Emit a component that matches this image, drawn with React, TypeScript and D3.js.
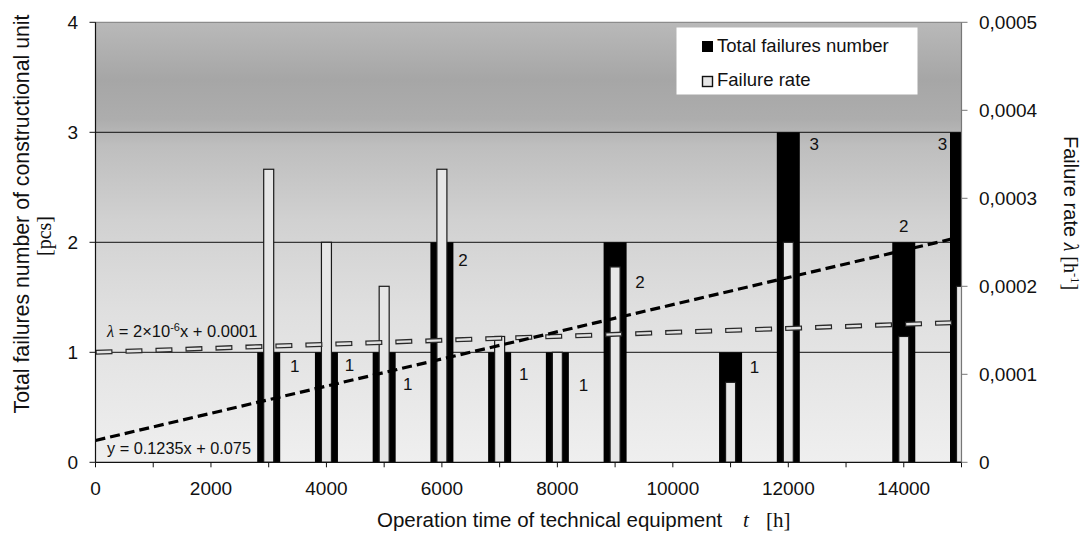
import React from "react";
import * as d3 from "d3";

const hours = [3000, 4000, 5000, 6000, 7000, 8000, 9000, 11000, 12000, 14000, 15000];
const totalFailures = [1, 1, 1, 2, 1, 1, 2, 1, 3, 2, 3];
const failureRate = [0.000333, 0.00025, 0.0002, 0.000333, 0.000143, 0.000125, 0.000222, 0.0000909, 0.00025, 0.000143, 0.0002];
const xTickValues = d3.range(0, 15001, 1000);
const xLabelValues = [0, 2000, 4000, 6000, 8000, 10000, 12000, 14000];
const leftTickValues = [0, 1, 2, 3, 4];
const rightTickValues = [0, 0.0001, 0.0002, 0.0003, 0.0004, 0.0005];
const rightTickLabels = ["0", "0,0001", "0,0002", "0,0003", "0,0004", "0,0005"];
// trend of failures: y = 0.1235x + 0.075 (x = category index, t/1000 + 1)
const failTrendSlope = 0.1235;
const failTrendIntercept = 0.075;
// trend of failure rate, read at both ends of the axis
const rateTrendHours = [0, 15000];
const rateTrendValues = [0.000125, 0.000159];
// data label placement offsets (px) from bar centre / top
const labelOffsets: [number, number][] = [
  [26, 20], [23, 19], [23.5, 38], [21, 24], [24, 28], [26, 39], [25, 46], [24, 21], [26, 18], [0, -10], [-19, 18],
];

const W = 1081;
const H = 533;
const left = 95.5;
const right = 961.5;
const top = 22.3;
const bottom = 462.3;

export default function App() {
  const x = d3.scaleLinear().domain([0, 15000]).range([left, right]);
  const yL = d3.scaleLinear().domain([0, 4]).range([bottom, top]);
  const yR = d3.scaleLinear().domain([0, 0.0005]).range([bottom, top]);

  const blackW = 23;
  const whiteW = 11;

  const failLine = d3.line<number>()
    .x((t) => x(t))
    .y((t) => yL(failTrendSlope * (t / 1000 + 1) + failTrendIntercept));
  const failPath = failLine([0, 15000]) || "";

  const rateLine = d3.line<number>()
    .x((_, i) => x(rateTrendHours[i]))
    .y((v) => yR(v));
  const ratePath = rateLine(rateTrendValues) || "";

  const sans = "'Liberation Sans', Arial, sans-serif";
  const serif = "'Liberation Serif', 'DejaVu Serif', serif";
  const fs = 19;

  return (
    <svg width={W} height={H} style={{ position: "absolute", left: 0, top: 0, background: "#fff" }}>
      <defs>
        <linearGradient id="bg" x1="0" y1="0" x2="0" y2="1">
          <stop offset="0" stopColor="#b9b9b9" />
          <stop offset="0.13" stopColor="#a6a6a6" />
          <stop offset="0.22" stopColor="#adadad" />
          <stop offset="0.28" stopColor="#bebebe" />
          <stop offset="0.45" stopColor="#d1d1d1" />
          <stop offset="0.65" stopColor="#dfdfdf" />
          <stop offset="1" stopColor="#efefef" />
        </linearGradient>
        <clipPath id="plot">
          <rect x={left} y={top - 1} width={right - left} height={bottom - top + 1} />
        </clipPath>
      </defs>

      <rect x={left} y={top} width={right - left} height={bottom - top} fill="url(#bg)" />
      {/* gridlines */}
      {[1, 2, 3].map((v) => (
        <line key={v} x1={left} x2={right} y1={yL(v)} y2={yL(v)} stroke="#111" strokeWidth={1} />
      ))}
      <line x1={left} x2={right} y1={top} y2={top} stroke="#8c8c8c" strokeWidth={1.2} />

      {/* bars */}
      <g clipPath="url(#plot)">
        {hours.map((t, i) => (
          <rect key={"b" + t} x={x(t) - blackW / 2} y={yL(totalFailures[i])} width={blackW}
            height={bottom - yL(totalFailures[i])} fill="#000" />
        ))}
        {hours.map((t, i) => (
          <rect key={"w" + t} x={x(t) - whiteW / 2 + 0.5} y={yR(failureRate[i])} width={whiteW - 1}
            height={bottom - yR(failureRate[i])} fill="#e6e6e6" stroke="#1a1a1a" strokeWidth={1.2} />
        ))}
        {/* trend lines */}
        <path d={ratePath} fill="none" stroke="#2a2a2a" strokeWidth={5} strokeDasharray="17 13" />
        <path d={ratePath} fill="none" stroke="#e2e2e2" strokeWidth={2.4} strokeDasharray="14.6 15.4" strokeDashoffset={-1.2} />
        <path d={failPath} fill="none" stroke="#000" strokeWidth={3.2} strokeDasharray="10 5" />
      </g>

      {/* data labels */}
      {hours.map((t, i) => (
        <text key={"l" + t} x={x(t) + labelOffsets[i][0]} y={yL(totalFailures[i]) + labelOffsets[i][1]}
          textAnchor="middle" fontFamily={sans} fontSize={17} fill="#111">
          {totalFailures[i]}
        </text>
      ))}

      {/* trend equations */}
      <text x={107} y={337} fontFamily={sans} fontSize={16.5} fill="#111">
        <tspan fontFamily={serif} fontStyle="italic">λ</tspan>
        <tspan> = 2×10</tspan>
        <tspan dy={-6} fontSize={11}>-6</tspan>
        <tspan dy={6}>x + 0.0001</tspan>
      </text>
      <text x={107} y={454} fontFamily={sans} fontSize={16.3} fill="#111">y = 0.1235x + 0.075</text>

      {/* axes */}
      <line x1={left} x2={left} y1={top} y2={bottom} stroke="#111" strokeWidth={1.2} />
      <line x1={right} x2={right} y1={top} y2={bottom} stroke="#777" strokeWidth={1.2} />
      <line x1={left} x2={right} y1={bottom} y2={bottom} stroke="#111" strokeWidth={1.2} />
      {xTickValues.map((t) => (
        <line key={"xt" + t} x1={x(t)} x2={x(t)} y1={bottom} y2={bottom + 5} stroke="#111" strokeWidth={1} />
      ))}
      {xLabelValues.map((t) => (
        <text key={"xl" + t} x={x(t)} y={495} textAnchor="middle" fontFamily={sans} fontSize={fs} fill="#111">
          {t}
        </text>
      ))}
      {leftTickValues.map((v) => (
        <g key={"yl" + v}>
          <line x1={left - 6} x2={left} y1={yL(v)} y2={yL(v)} stroke="#111" strokeWidth={1} />
          <text x={78} y={yL(v) + 7} textAnchor="end" fontFamily={sans} fontSize={fs} fill="#111">{v}</text>
        </g>
      ))}
      {rightTickValues.map((v, i) => (
        <g key={"yr" + v}>
          <line x1={right} x2={right + 6} y1={yR(v)} y2={yR(v)} stroke="#777" strokeWidth={1} />
          <text x={979} y={yR(v) + 7} textAnchor="start" fontFamily={sans} fontSize={fs} fill="#111">{rightTickLabels[i]}</text>
        </g>
      ))}

      {/* axis titles */}
      <text x={377} y={527} textAnchor="start" fontFamily={sans} fontSize={20.5} fill="#111">
        <tspan>Operation time of technical equipment</tspan>
        <tspan x={743} fontFamily={serif} fontStyle="italic" fontSize={21}>t</tspan>
        <tspan x={766} fontFamily={serif} fontSize={21}>[h]</tspan>
      </text>
      <g transform="translate(29,214) rotate(-90)">
        <text x={0} y={0} textAnchor="middle" fontFamily={sans} fontSize={21.3} fill="#111">
          Total failures number of constructional unit
        </text>
      </g>
      <g transform="translate(51,236) rotate(-90)">
        <text x={0} y={0} textAnchor="middle" fontFamily={serif} fontSize={20} fill="#111">[pcs]</text>
      </g>
      <g transform="translate(1064,213) rotate(90)">
        <text x={0} y={0} textAnchor="middle" fontFamily={sans} fontSize={20} fill="#111">
          <tspan>Failure rate </tspan>
          <tspan fontFamily={serif} fontStyle="italic">λ</tspan>
          <tspan fontFamily={serif}>  [h</tspan>
          <tspan fontFamily={serif} dy={-7} fontSize={12.5}>-1</tspan>
          <tspan fontFamily={serif} dy={7}>]</tspan>
        </text>
      </g>

      {/* legend */}
      <rect x={676.5} y={27.5} width={241} height={67} fill="#fff" />
      <rect x={702} y={41} width={11} height={11} fill="#000" />
      <text x={717} y={52} fontFamily={sans} fontSize={18.5} fill="#111">Total failures number</text>
      <rect x={702.5} y={76.5} width={10} height={10} fill="#e6e6e6" stroke="#111" strokeWidth={1.4} />
      <text x={717} y={86} fontFamily={sans} fontSize={18.5} fill="#111">Failure rate</text>
    </svg>
  );
}
